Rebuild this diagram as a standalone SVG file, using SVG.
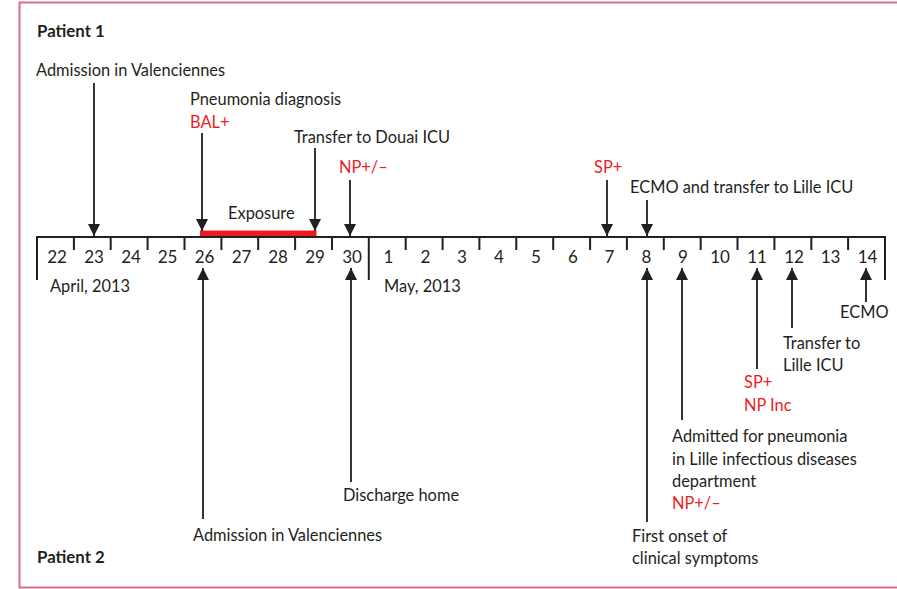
<svg xmlns="http://www.w3.org/2000/svg" width="897" height="589" viewBox="0 0 897 589">
<defs>
<style>
text{font-family:Lato,"Liberation Sans",sans-serif;font-size:16.4px;fill:#231f20}
.b{font-weight:bold;font-size:16.8px}
.r{fill:#ed1c24}
.d{text-anchor:middle;font-size:17px}
.ax{stroke:#231f20;stroke-width:2;fill:none}
.ar{stroke:#231f20;stroke-width:1.8;fill:none;marker-end:url(#ah)}
</style>
<marker id="ah" viewBox="0 0 12 12" refX="12" refY="6" markerUnits="userSpaceOnUse" markerWidth="13" markerHeight="12" orient="auto">
<path d="M0,0 L12,6 L0,12 z" fill="#231f20"/>
</marker>
</defs>
<rect width="897" height="589" fill="#fff"/>
<path d="M905,2.5 H19.5 V587.5 H905" fill="none" stroke="#d86b92" stroke-width="2"/>

<g id="axis">
<rect x="200" y="230.5" width="116.5" height="6" fill="#ed1c24"/>
<path class="ax" d="M37,237 H885 M37,236 V280 M885,236 V280 M368.8,236 V280
M73.9,237V250 M110.7,237V250 M147.6,237V250 M184.5,237V250 M221.4,237V250 M258.2,237V250 M295.1,237V250 M332,237V250
M405.7,237V250 M442.6,237V250 M479.4,237V250 M516.3,237V250 M553.2,237V250 M590.1,237V250 M626.9,237V250 M663.8,237V250 M700.7,237V250 M737.5,237V250 M774.4,237V250 M811.3,237V250 M848.1,237V250"/>
<g class="days">
<text class="d" x="57" y="263">22</text>
<text class="d" x="94" y="263">23</text>
<text class="d" x="131" y="263">24</text>
<text class="d" x="167.5" y="263">25</text>
<text class="d" x="204.5" y="263">26</text>
<text class="d" x="241.5" y="263">27</text>
<text class="d" x="278" y="263">28</text>
<text class="d" x="315" y="263">29</text>
<text class="d" x="352" y="263">30</text>
<text class="d" x="388.5" y="263">1</text>
<text class="d" x="425.5" y="263">2</text>
<text class="d" x="462" y="263">3</text>
<text class="d" x="499" y="263">4</text>
<text class="d" x="536" y="263">5</text>
<text class="d" x="573" y="263">6</text>
<text class="d" x="609.5" y="263">7</text>
<text class="d" x="646.5" y="263">8</text>
<text class="d" x="683" y="263">9</text>
<text class="d" x="720" y="263">10</text>
<text class="d" x="757" y="263">11</text>
<text class="d" x="794" y="263">12</text>
<text class="d" x="830.5" y="263">13</text>
<text class="d" x="867.5" y="263">14</text>
</g>
<text x="50" y="292">April, 2013</text>
<text x="384" y="292">May, 2013</text>
</g>

<g id="patient1-title"><text class="b" x="37" y="37">Patient 1</text></g>
<g id="p1-admission"><text x="36" y="76">Admission in Valenciennes</text></g>
<g id="p1-pneumonia"><text x="190" y="105">Pneumonia diagnosis</text><text class="r" x="190" y="128">BAL+</text></g>
<g id="p1-douai"><text x="294" y="143">Transfer to Douai ICU</text></g>
<g id="p1-np"><text class="r" x="339" y="173">NP+/–</text></g>
<g id="exposure"><text x="228" y="219">Exposure</text></g>
<g id="p1-sp"><text class="r" x="594" y="173">SP+</text></g>
<g id="p1-ecmo"><text x="630" y="193">ECMO and transfer to Lille ICU</text></g>

<g id="patient2-title"><text class="b" x="37" y="563">Patient 2</text></g>
<g id="p2-admission"><text x="193" y="541">Admission in Valenciennes</text></g>
<g id="p2-discharge"><text x="343" y="501">Discharge home</text></g>
<g id="p2-onset"><text x="632" y="542">First onset of</text><text x="632" y="564">clinical symptoms</text></g>
<g id="p2-admitted"><text x="672" y="442">Admitted for pneumonia</text><text x="672" y="464.5">in Lille infectious diseases</text><text x="672" y="487">department</text><text class="r" x="672" y="509">NP+/–</text></g>
<g id="p2-sp"><text class="r" x="744" y="388">SP+</text><text class="r" x="744" y="411">NP Inc</text></g>
<g id="p2-transfer"><text x="783" y="349">Transfer to</text><text x="783" y="371">Lille ICU</text></g>
<g id="p2-ecmo"><text x="840" y="318">ECMO</text></g>

<g id="connectors">
<line class="ar" x1="94" y1="83" x2="94" y2="236"/>
<line class="ar" x1="202" y1="133" x2="202" y2="231"/>
<line class="ar" x1="315" y1="148" x2="315" y2="231"/>
<line class="ar" x1="350" y1="180" x2="350" y2="236"/>
<line class="ar" x1="607" y1="180" x2="607" y2="236"/>
<line class="ar" x1="647" y1="200" x2="647" y2="236"/>
<line class="ar" x1="203" y1="519" x2="203" y2="268"/>
<line class="ar" x1="351" y1="482" x2="351" y2="268"/>
<line class="ar" x1="647" y1="522" x2="647" y2="268"/>
<line class="ar" x1="682" y1="420" x2="682" y2="268"/>
<line class="ar" x1="757" y1="369" x2="757" y2="268"/>
<line class="ar" x1="792" y1="328" x2="792" y2="268"/>
<line class="ar" x1="866" y1="302" x2="866" y2="268"/>
</g>
</svg>
